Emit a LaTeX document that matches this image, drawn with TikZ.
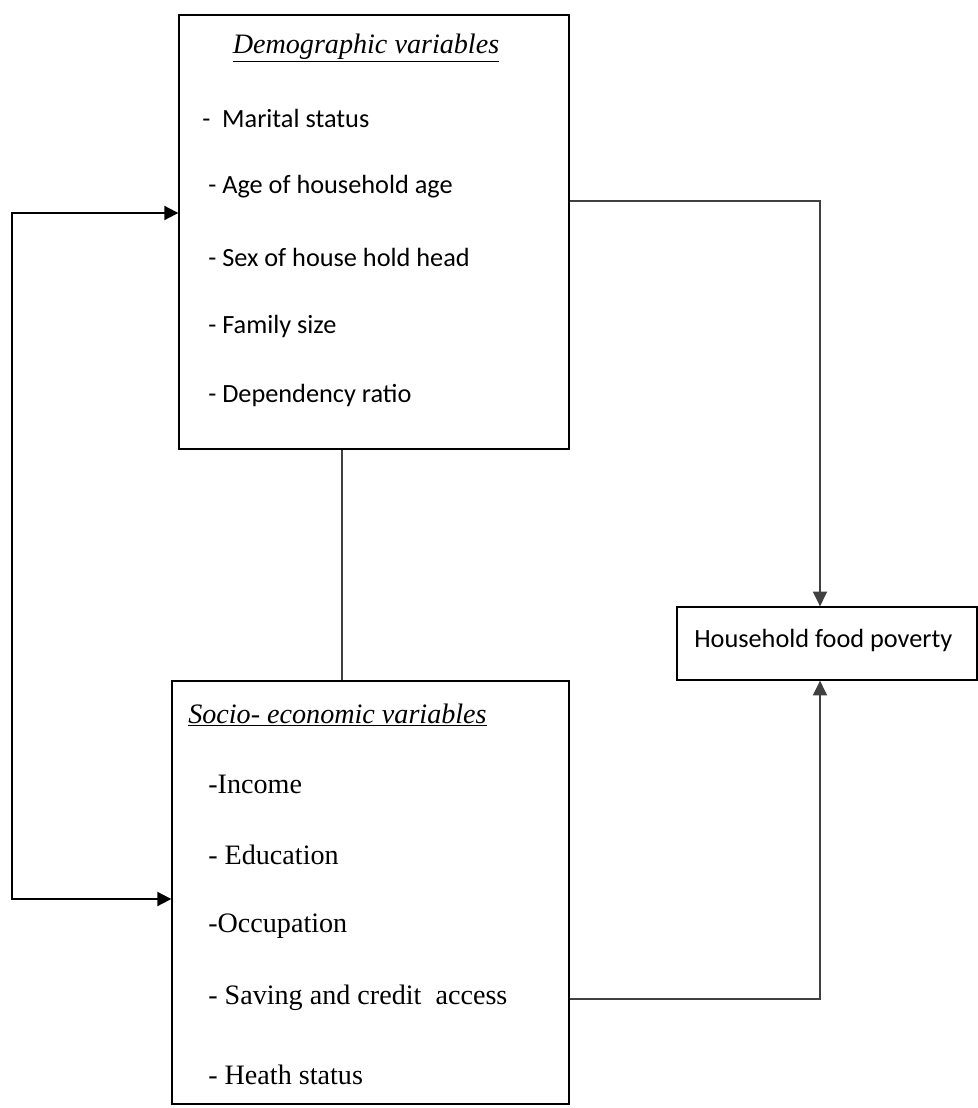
\documentclass[tikz,border=0pt]{standalone}
\usepackage{fontspec}
\setmainfont{Liberation Serif}
\newfontfamily\calfont{Carlito}
\usetikzlibrary{arrows.meta,calc}
\tikzset{
  varbox/.style={draw=black, line width=0.9pt, inner sep=0pt},
  calitem/.style={anchor=west, inner sep=0pt, font=\calfont\fontsize{18.7}{22}\selectfont},
  timesitem/.style={anchor=west, inner sep=0pt, font=\fontsize{20}{24}\selectfont},
  boxtitle/.style={inner sep=0pt, font=\itshape\fontsize{20}{24}\selectfont},
  link/.style={draw=black!75, line width=1.1pt},
  tip/.style={-{Triangle[length=10.5pt,width=10pt]}}
}
\begin{document}
\begin{tikzpicture}[x=0.025cm, y=-0.025cm]
			%%%%% START %%%%%
			\useasboundingbox (0,0) rectangle (977,1108);
			
			% the three boxes
			\node[varbox, minimum width=9.75cm, minimum height=10.85cm] (demo) at (374,232) {};
			\node[varbox, minimum width=9.925cm, minimum height=10.575cm] (socio) at (370.5,892.5) {};
			\node[varbox, minimum width=7.5cm, minimum height=1.825cm] (food) at (827,643.5) {};
			
			% demographic variables
			\node[boxtitle] (demotitle) at (366,48) {\underline{Demographic variables}};
			\node[calitem] (marital) at (202,118) {-\ \ Marital status};
			\node[calitem] (agehh) at (208,187) {- Age of household age};
			\node[calitem] (sexhh) at (208,257) {- Sex of house hold head};
			\node[calitem] (famsize) at (208,326) {- Family size};
			\node[calitem] (depratio) at (208,395) {- Dependency ratio};
			
			% socio-economic variables
			\node[boxtitle, anchor=west] (sociotitle) at (188,715) {\underline{Socio- economic variables}};
			\node[timesitem] (income) at (208,784) {-Income};
			\node[timesitem] (educ) at (208,855) {- Education};
			\node[timesitem] (occup) at (208,926) {-Occupation};
			\node[timesitem] (saving) at (208,998) {- Saving and credit\ \ access};
			\node[timesitem] (health) at (208,1075) {- Heath status};
			
			% outcome
			\node[calitem] (foodtxt) at (694,640) {Household food poverty};
			
			% connectors
			\coordinate (foodin) at ($(food.north)+(-7,0)$);
			\coordinate (foodup) at ($(food.south)+(-7,0)$);
			\draw[link, tip] (demo.east |- 0,201) -| (foodin);
			\draw[link, tip] (socio.east |- 0,999) -| (foodup);
			\draw[link] (demo.south -| 342,0) -- (socio.north -| 342,0);
			\draw[link, draw=black, line width=1.4pt, {Triangle[length=10pt,width=10pt]}-{Triangle[length=10pt,width=10pt]}]
			  (demo.west |- 0,213) -- (12,213) -- (12,899) -- (socio.west |- 0,899);
			
			%%%%% END %%%%%
\end{tikzpicture}
\end{document}
